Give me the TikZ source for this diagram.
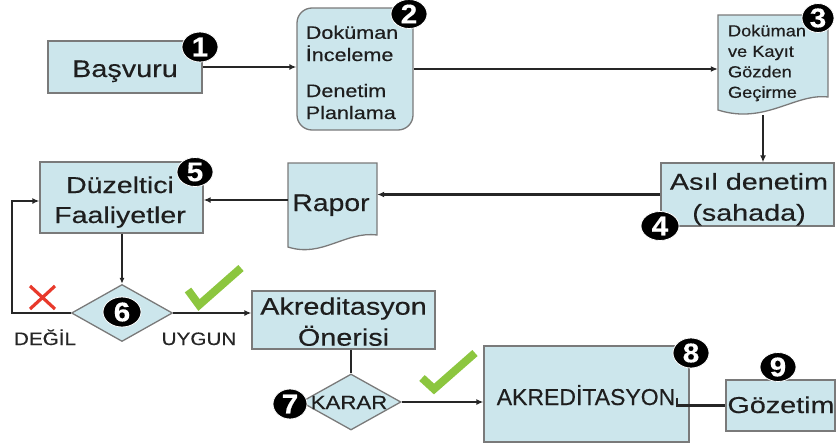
\documentclass[tikz,border=0pt]{standalone}
\usepackage{fontspec}
\setmainfont{Liberation Sans}[FakeBold=0.35]
\usetikzlibrary{shapes.geometric,arrows.meta,calc}
\definecolor{boxfill}{HTML}{CCE6EC}
\definecolor{boxline}{HTML}{7A7A7A}
\definecolor{lineclr}{HTML}{262626}
\definecolor{txtclr}{HTML}{1E1E1E}
\definecolor{okgreen}{HTML}{8CC63F}
\definecolor{nored}{HTML}{E8392B}
\newcommand\bt[5]{\scalebox{#2}[1]{\fontsize{#1}{#3}\selectfont\begin{tabular}{@{}#4@{}}#5\end{tabular}}}
\newcommand\oneline[3]{\scalebox{#2}[1]{\fontsize{#1}{#1}\selectfont #3}}
\newcommand\bnum[1]{\scalebox{1.1}[1]{\fontsize{27}{27}\selectfont\bfseries #1}}
\begin{document}
\begin{tikzpicture}[x=1pt,y=-1pt,
  box/.style={draw=boxline, fill=boxfill, line width=1.3pt, inner sep=0pt},
  docshape/.style={draw=boxline, fill=boxfill, line width=1.3pt},
  diam/.style={diamond, draw=boxline, fill=boxfill, line width=1.3pt, inner sep=0pt},
  txt/.style={inner sep=0pt, text=txtclr},
  conn/.style={draw=lineclr, line width=2.3pt},
  arr/.style={conn, -{Latex[length=7pt,width=6pt]}},
  thinarr/.style={draw=lineclr, line width=1.3pt, -{Latex[length=6pt,width=5pt]}},
  badge/.style={ellipse, fill=black, draw=white, line width=0.8pt, inner sep=0pt, text=white},
  check/.style={draw=okgreen, line width=8pt},
  cross/.style={draw=nored, line width=3.2pt},
  lbl/.style={inner sep=0pt, text=lineclr}]
\useasboundingbox (0,0) rectangle (837,447);

% document-shaped outlines
\draw[docshape] (718,15) -- (828,15) -- (828,97) .. controls (795,93) and (765,125) .. (718,110) -- cycle;
\draw[docshape] (288,163) -- (377,163) -- (377,235) .. controls (345,231) and (322,258) .. (288,247) -- cycle;

% boxes
\node[box, minimum width=154, minimum height=52] (b1) at (125,67) {};
\node[box, rounded corners=15pt, minimum width=116, minimum height=122] (b2) at (355,69) {};
\node[inner sep=0pt, minimum width=110, minimum height=100] (b3) at (773,65) {};
\node[box, minimum width=173, minimum height=63] (b4) at (747.5,194.5) {};
\node[inner sep=0pt, minimum width=89, minimum height=74] (rp) at (332.5,200) {};
\node[box, minimum width=163, minimum height=71] (b5) at (121.5,197.5) {};
\node[diam, minimum width=101, minimum height=57] (d6) at (122,313) {};
\node[box, minimum width=183, minimum height=58] (ao) at (343.5,320) {};
\node[diam, minimum width=100, minimum height=56] (d7) at (351,402) {};
\node[box, minimum width=205, minimum height=96] (b8) at (586.5,394) {};
\node[box, minimum width=109, minimum height=51] (b9) at (780.5,405.5) {};

% texts
\node[txt, anchor=base] (t1) at (125,77) {\oneline{24}{1.2}{Başvuru}};
\node[txt] (t2) at (352,74.5) {\bt{18}{1.2}{22}{l}{Doküman\\İnceleme\\[14pt]Denetim\\Planlama}};
\node[txt] (t3) at (767,63) {\bt{16}{1.14}{20.5}{l}{Doküman\\ve Kayıt\\Gözden\\Geçirme}};
\node[txt] (t4) at (749,199) {\bt{23}{1.25}{31}{c}{Asıl denetim\\(sahada)}};
\node[txt, anchor=base] (trp) at (331,211) {\oneline{24}{1.18}{Rapor}};
\node[txt] (t5) at (120,202) {\bt{23}{1.24}{30}{c}{Düzeltici\\Faaliyetler}};
\node[txt] (tao) at (343.5,324) {\bt{24}{1.2}{31}{c}{Akreditasyon\\Önerisi}};
\node[txt, anchor=base] (t7) at (349,409) {\oneline{19}{1.17}{KARAR}};
\node[txt, anchor=base] (t8) at (586,405) {\oneline{23}{1.0}{AKREDİTASYON}};
\node[txt, anchor=base] (t9) at (781,413) {\oneline{23}{1.25}{Gözetim}};
\node[lbl, anchor=base] (l1) at (45,345) {\oneline{18}{1.15}{DEĞİL}};
\node[lbl, anchor=base] (l2) at (199,345) {\oneline{18}{1.15}{UYGUN}};

% connectors
\draw[arr] (b1.east) -- (b1.east -| b2.west);
\draw[arr] (b2.east) -- (b2.east -| b3.west);
\coordinate (c3) at ($(b3.south)+(-10,0)$);
\draw[arr] (c3) -- (c3 |- b4.north);
\draw[arr] (b4.west) -- (b4.west -| rp.east);
\draw[arr] (rp.west) -- (rp.west -| b5.east);
\draw[thinarr] (b5.south -| d6.north) -- (d6.north);
\coordinate (lp) at (12,201);
\draw[arr] (d6.west) -| (lp) -- (lp -| b5.west);
\draw[arr] (d6.east) -- (d6.east -| ao.west);
\draw[conn] (ao.south -| d7.north) -- (d7.north);
\draw[arr] (d7.east) -- (d7.east -| b8.west);
\coordinate (c8) at (677,398);
\draw[conn] (c8) |- (b9.west);

% marks
\draw[check] (188,290) -- (199,305) -- (241,268);
\draw[check] (422,378) -- (434,389) -- (475,353);
\draw[cross] (30,286) -- (55,309) (55,286) -- (30,309);

% badges
\node[badge, minimum width=36, minimum height=30] (n1) at (200,47) {\bnum{1}};
\node[badge, minimum width=36, minimum height=29] (n2) at (409,14) {\bnum{2}};
\node[badge, minimum width=32, minimum height=29] (n3) at (818,18) {\bnum{3}};
\node[badge, minimum width=38, minimum height=29] (n4) at (660,226) {\bnum{4}};
\node[badge, minimum width=36, minimum height=29] (n5) at (195,172) {\bnum{5}};
\node[badge, minimum width=38, minimum height=30] (n6) at (122,312) {\bnum{6}};
\node[badge, minimum width=34, minimum height=30] (n7) at (290,404) {\bnum{7}};
\node[badge, minimum width=36, minimum height=30] (n8) at (691,353) {\bnum{8}};
\node[badge, minimum width=36, minimum height=29] (n9) at (778,367) {\bnum{9}};
\end{tikzpicture}
\end{document}
